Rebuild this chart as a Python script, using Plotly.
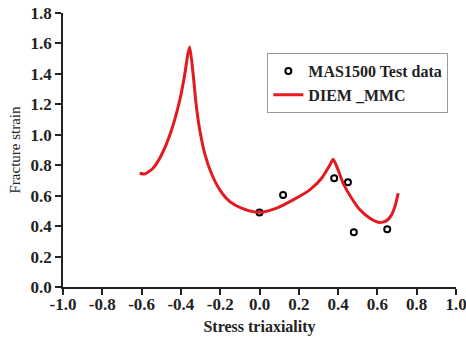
import plotly.graph_objects as go

# Test data
test_x = [0.00, 0.12, 0.38, 0.45, 0.48, 0.65]
test_y = [0.49, 0.605, 0.714, 0.688, 0.36, 0.38]

# DIEM_MMC curve
curve_x = [-0.61, -0.584, -0.542, -0.499, -0.448, -0.406, -0.38, -0.366, -0.355,
           -0.338, -0.321, -0.304, -0.279, -0.245, -0.202, -0.151, -0.092, -0.033,
           0.01, 0.087, 0.171, 0.256, 0.316, 0.358, 0.375, 0.40, 0.426, 0.469,
           0.511, 0.562, 0.613, 0.647, 0.672, 0.689, 0.706]
curve_y = [0.747, 0.742, 0.78, 0.867, 1.03, 1.227, 1.40, 1.52, 1.577,
           1.402, 1.183, 1.031, 0.878, 0.747, 0.638, 0.561, 0.518, 0.495,
           0.491, 0.518, 0.572, 0.638, 0.714, 0.801, 0.839, 0.769, 0.681, 0.583,
           0.507, 0.452, 0.423, 0.436, 0.474, 0.528, 0.616]

x_ticks = [-1.0, -0.8, -0.6, -0.4, -0.2, 0.0, 0.2, 0.4, 0.6, 0.8, 1.0]
y_ticks = [0.0, 0.2, 0.4, 0.6, 0.8, 1.0, 1.2, 1.4, 1.6, 1.8]

font_family = "Liberation Serif"

fig = go.Figure()
fig.add_trace(go.Scatter(
    x=test_x, y=test_y, mode="markers", name="MAS1500 Test data",
    marker=dict(symbol="circle-open", size=6, color="black", line=dict(width=2)),
))
fig.add_trace(go.Scatter(
    x=curve_x, y=curve_y, mode="lines", name="DIEM _MMC",
    line=dict(color="#e31a1f", width=3, shape="spline", smoothing=0.6),
))

axis_common = dict(
    showline=True, linecolor="#222", linewidth=1.5,
    ticks="outside", ticklen=6, tickwidth=1.5, tickcolor="#222",
    showgrid=False, zeroline=False, mirror=False, automargin=False,
    ticklabeloverflow="allow",
    tickfont=dict(family=font_family, size=17, color="#222", weight="bold"),
)

fig.update_xaxes(
    range=[-1.0, 1.0], tickvals=x_ticks,
    ticktext=[f"{v:.1f}" for v in x_ticks],
    ticklabelstandoff=-5,
    title=dict(text="Stress triaxiality", standoff=8,
               font=dict(family=font_family, size=16, color="#222", weight="bold")),
    **axis_common,
)
fig.update_yaxes(
    range=[0.0, 1.8], tickvals=y_ticks,
    ticktext=[f"{v:.1f}" for v in y_ticks],
    title=dict(text="Fracture strain", standoff=6,
               font=dict(family=font_family, size=15, color="#222")),
    **axis_common,
)

fig.update_layout(
    width=466, height=343,
    margin=dict(l=63, r=10, t=13, b=56),
    paper_bgcolor="white", plot_bgcolor="white",
    showlegend=True,
    legend=dict(
        x=0.52, y=0.854, xanchor="left", yanchor="top",
        bordercolor="#999", borderwidth=1, bgcolor="white",
        font=dict(family=font_family, size=16, color="#222", weight="bold"),
        tracegroupgap=0, itemwidth=30,
    ),
)

fig.write_html(
    "out.html",
    config={"displayModeBar": False},
    post_script="document.body.style.margin='0';document.body.style.overflow='hidden';",
)
